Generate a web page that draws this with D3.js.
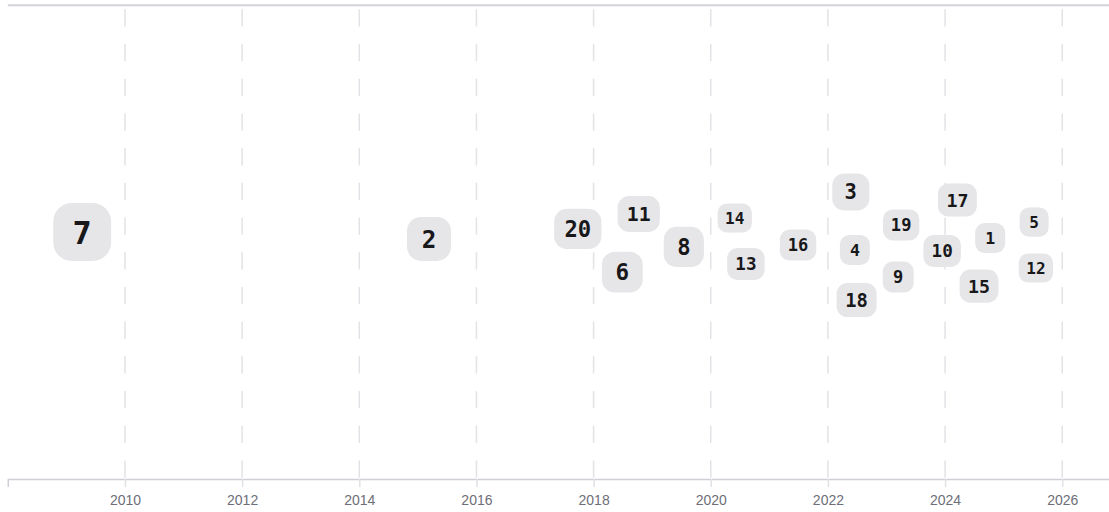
<!DOCTYPE html>
<html>
<head>
<meta charset="utf-8">
<script src="https://cdn.jsdelivr.net/npm/d3@7"></script>
<style>
  html, body { margin: 0; padding: 0; background: #ffffff; }
  svg { display: block; }
</style>
</head>
<body>
<svg id="chart" width="1109" height="512"></svg>
<script>
// ---- data ----
const labels = ["1","2","3","4","5","6","7","8","9","10","11","12","13","14","15","16","17","18","19","20"];
const years  = [2024.77, 2015.19, 2022.39, 2022.46, 2025.52, 2018.49, 2009.27, 2019.54, 2023.20, 2023.95,
                2018.77, 2025.55, 2020.60, 2020.41, 2024.58, 2021.49, 2024.21, 2022.49, 2023.25, 2017.73];
const scores = [8, 53, 31, 8, 5, 43, 98, 41, 11, 14,
                27, 5, 14, 5, 18, 11, 18, 21, 11, 41];
const swarmOffset = [0.17, 0.13, 2.11, -0.34, 0.84, -1.27, 0.42, -0.21, -1.48, -0.38,
                     1.18, -1.10, -0.93, 1.01, -1.86, -0.13, 1.77, -2.45, 0.72, 0.55];
const tickYears = [2010, 2012, 2014, 2016, 2018, 2020, 2022, 2024, 2026];

const data = labels.map((l, i) => ({ label: l, year: years[i], score: scores[i], off: swarmOffset[i] }));

// ---- layout ----
const W = 1109, H = 512;
const left = 7.8, topY = 5.3, axisY = 479;
const pxPerYear = 58.58;

const svg = d3.select("#chart");

const x = d3.scaleLinear().domain([2008, 2027]).range([left, left + 19 * pxPerYear]);
const y = d3.scaleLinear().domain([-10, 10]).range([242 + 237, 242 - 237]);
const fs = d3.scaleLinear().domain([0, 100]).range([16, 34]);

// top rule
svg.append("line")
  .attr("x1", left).attr("x2", W)
  .attr("y1", topY).attr("y2", topY)
  .attr("stroke", "#d3d3da").attr("stroke-width", 2);

// grid lines
svg.append("g").selectAll("line")
  .data(tickYears).join("line")
  .attr("x1", d => x(d)).attr("x2", d => x(d))
  .attr("y1", 9.3).attr("y2", axisY)
  .attr("stroke", "#e3e3e7").attr("stroke-width", 1.5)
  .attr("stroke-dasharray", "17.3,17.4");

// axis
const axis = d3.axisBottom(x)
  .tickValues(tickYears)
  .tickFormat(d3.format("d"))
  .tickSize(8).tickSizeOuter(8).tickPadding(8);

const gAxis = svg.append("g")
  .attr("transform", `translate(0,${axisY})`)
  .call(axis);
gAxis.select(".domain").attr("stroke", "#cfcfd6").attr("stroke-width", 1.5);
gAxis.selectAll(".tick line").attr("stroke", "#e1e1e6").attr("stroke-width", 1.5);
gAxis.selectAll(".tick text")
  .attr("fill", "#6e6e78")
  .attr("font-family", "'Liberation Sans', Arial, sans-serif")
  .attr("font-size", 14);

// badges
const badges = svg.append("g").selectAll("g")
  .data(data).join("g")
  .attr("transform", d => `translate(${x(d.year)},${y(d.off)})`);

badges.each(function(d) {
  const f = fs(d.score);
  const h = 1.72 * f;
  const w = Math.max(h, 0.602 * d.label.length * f + 0.82 * f);
  const g = d3.select(this);
  g.append("rect")
    .attr("x", -w / 2).attr("y", -h / 2)
    .attr("width", w).attr("height", h)
    .attr("rx", h * 0.32).attr("ry", h * 0.32)
    .attr("fill", "#e6e6e9");
  g.append("text")
    .attr("text-anchor", "middle")
    .attr("dy", "0.36em")
    .attr("font-family", "'DejaVu Sans Mono', monospace")
    .attr("font-weight", "bold")
    .attr("font-size", f * 0.95)
    .attr("fill", "#18181b")
    .text(d.label);
});
</script>
</body>
</html>
